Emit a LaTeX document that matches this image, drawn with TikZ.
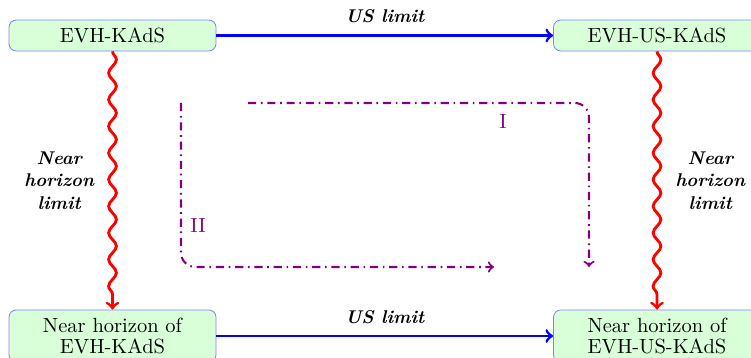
\documentclass[tikz,border=0pt]{standalone}
\usetikzlibrary{decorations.pathmorphing}
\begin{document}
\begin{tikzpicture}[x=0.488pt, y=-0.488pt,
  statebox/.style={draw=blue!50, fill=green!15, rounded corners=3.5pt,
    minimum width=101pt, align=center,
    font=\fontsize{10}{10.7}\selectfont},
  uslimit/.style={draw=blue, line width=1.4pt, ->},
  nhlimit/.style={draw=red, line width=1.4pt, ->, decorate,
    decoration={snake, amplitude=1.9pt, segment length=13pt, post length=4pt}},
  lbl/.style={font=\small\bfseries\itshape, align=center},
  flow/.style={draw=violet, line width=1pt, ->,
    dash pattern=on 4pt off 2.3pt on 0.8pt off 2.3pt, rounded corners=7pt},
  flowlbl/.style={text=violet}
]
\clip (0,0) rectangle (751,358);

% the four theories
\node[statebox, minimum height=15.1pt] (A) at (112.5,35.5) {EVH-KAdS};
\node[statebox, minimum height=15.1pt] (B) at (657,35.5) {EVH-US-KAdS};
\node[statebox, minimum height=25.4pt] (C) at (112.5,336) {Near horizon of\\EVH-KAdS};
\node[statebox, minimum height=25.4pt] (D) at (657,336) {Near horizon of\\EVH-US-KAdS};

% ultra-spinning limits
\draw[uslimit] (A) -- node[lbl, above=2pt] {US limit} (B);
\draw[uslimit] (C) -- node[lbl, above=2pt] {US limit} (D);

% near horizon limits
\draw[nhlimit] (A) -- (C);
\draw[nhlimit] (B) -- (D);
\path (A) -- node[lbl, left=5.5pt] {Near\\horizon\\limit} (C);
\path (B) -- node[lbl, right=5.5pt] {Near\\horizon\\limit} (D);

% the two routes around the square
\coordinate (i1) at (248,103);
\coordinate (i2) at (589,103);
\coordinate (i3) at (589,267);
\draw[flow] (i1) -- (i2) -- (i3);
\node[flowlbl] (rI) at (503,122) {I};

\coordinate (ii1) at (181,103);
\coordinate (ii2) at (181,267);
\coordinate (ii3) at (494,267);
\draw[flow] (ii1) -- (ii2) -- (ii3);
\node[flowlbl] (rII) at (198,226) {II};
\end{tikzpicture}
\end{document}
